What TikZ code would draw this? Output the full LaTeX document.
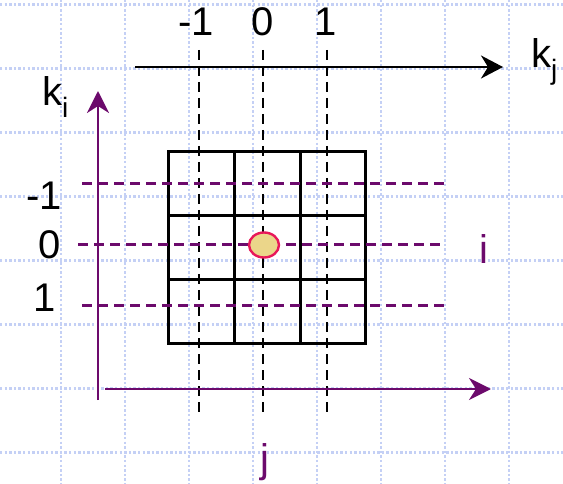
\documentclass[tikz,border=0pt]{standalone}
\usepackage{fontspec}
\setmainfont{Liberation Sans}
\usetikzlibrary{arrows.meta,shapes.geometric}
\definecolor{gridblue}{RGB}{196,208,245}
\definecolor{purp}{RGB}{108,10,108}
\definecolor{dotfill}{RGB}{235,214,138}
\definecolor{dotline}{RGB}{232,24,90}
\tikzset{
  bggrid/.style={gridblue, line width=2.6pt, dash pattern=on 2.4pt off 2.2pt},
  cellbox/.style={draw=black, line width=3pt},
  kdash/.style={black, line width=2.6pt, dash pattern=on 10pt off 6pt},
  pdash/.style={purp, line width=3pt, dash pattern=on 10pt off 6pt},
  karrow/.style={black, line width=2.2pt, -{Stealth[length=22pt,width=23pt,inset=7pt]}},
  parrow/.style={purp, line width=2.4pt, -{Stealth[length=22pt,width=22pt,inset=7pt]}},
  lbl/.style={font=\fontsize{40}{44}\selectfont, inner sep=0pt},
  plbl/.style={lbl, text=purp},
}
\begin{document}
\begin{tikzpicture}[x=1pt,y=-1pt]
\useasboundingbox (0,0) rectangle (563,484);
% background grid
\foreach \gx in {61,125,189,253,317,381,445,509}
  \draw[bggrid] (\gx,0) -- (\gx,484);
\foreach \gy in {4.5,68.5,132.5,196.5,260.5,324.5,388.5,452.5}
  \draw[bggrid] (0,\gy) -- (563,\gy);
% cells
\foreach \cx/\cxx in {168/234,234/300,300/365}
  \foreach \cy/\cyy in {152/216,216/280,280/343}
    \draw[cellbox] (\cx,\cy) rectangle (\cxx,\cyy);
% black dashed verticals
\coordinate (vmT) at (199,50); \coordinate (vmB) at (199,416);
\coordinate (vzT) at (263,50); \coordinate (vzB) at (263,416);
\coordinate (vpT) at (327,50); \coordinate (vpB) at (327,416);
\draw[kdash] (vmT) -- (vmB);
\draw[kdash] (vzT) -- (vzB);
\draw[kdash] (vpT) -- (vpB);
% purple dashed horizontals
\coordinate (hmL) at (82,184); \coordinate (hmR) at (446,184);
\coordinate (hzL) at (78,245); \coordinate (hzR) at (444,245);
\coordinate (hpL) at (82,305); \coordinate (hpR) at (446,305);
\draw[pdash] (hmL) -- (hmR);
\draw[pdash] (hzL) -- (hzR);
\draw[pdash] (hpL) -- (hpR);
% axes
\coordinate (kjS) at (135,67); \coordinate (kjE) at (503,67);
\draw[karrow] (kjS) -- (kjE);
\coordinate (kiS) at (98,400); \coordinate (kiE) at (98,91);
\draw[parrow] (kiS) -- (kiE);
\coordinate (jS) at (105,389); \coordinate (jE) at (491,389);
\draw[parrow] (jS) -- (jE);
% center element
\node[draw=dotline, fill=dotfill, line width=2.4pt, ellipse, minimum width=30pt, minimum height=25pt, inner sep=0pt] (ctr) at (264,245) {};
% labels
\node[lbl] (tm) at (196,22) {-1};
\node[lbl] (tz) at (263,22) {0};
\node[lbl] (tp) at (326,22) {1};
\node[lbl] (lm) at (44,196) {-1};
\node[lbl] (lz) at (50,245) {0};
\node[lbl] (lp) at (45,298) {1};
\node[lbl, anchor=base west] (ki) at (42,106) {k\textsubscript{i}};
\node[lbl, anchor=base west] (kj) at (531,68) {k\textsubscript{j}};
\node[plbl] (ilab) at (484,249) {i};
\node[plbl] (jlab) at (265,462) {j};
\end{tikzpicture}
\end{document}
